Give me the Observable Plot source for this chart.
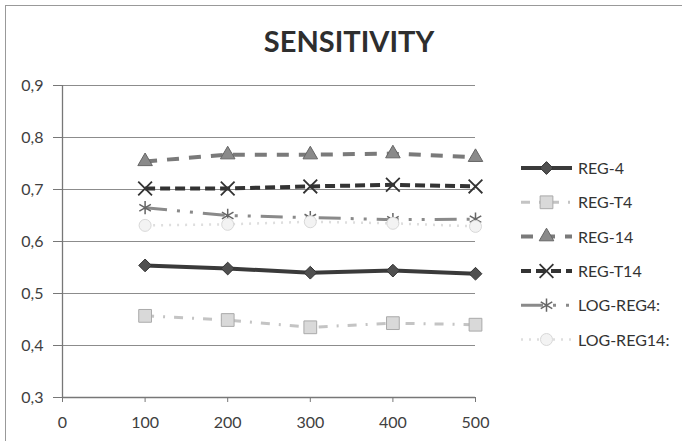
<!DOCTYPE html>
<html><head><meta charset="utf-8">
<script src="https://cdn.jsdelivr.net/npm/d3@7"></script>
<script src="https://cdn.jsdelivr.net/npm/@observablehq/plot@0.6"></script>
<style>
body{margin:0;background:#fff;overflow:hidden}
#wrap{position:relative;width:682px;height:441px;overflow:hidden;font-family:Lato,sans-serif;background:#fff}
#frame{position:absolute;left:5px;top:5px;width:720px;height:480px;border:1px solid #999}
#title{position:absolute;left:0;width:698px;top:24px;text-align:center;font-weight:bold;font-size:29px;line-height:1.2;color:#2e2e2e;font-family:Lato,sans-serif}
#chart{position:absolute;left:0;top:0}
#legend{position:absolute;left:0;top:0}
</style></head><body>
<div id="wrap"><div id="frame"></div><div id="title">SENSITIVITY</div><div id="chart"></div><svg id="legend" width="682" height="441"></svg></div>
<script>
const xValues = [100, 200, 300, 400, 500];
const seriesNames = ["REG-4", "REG-T4", "REG-14", "REG-T14", "LOG-REG4:", "LOG-REG14:"];
const reg4 = [0.554, 0.548, 0.540, 0.544, 0.538];
const regT4 = [0.457, 0.449, 0.435, 0.443, 0.440];
const reg14 = [0.754, 0.767, 0.767, 0.769, 0.762];
const regT14 = [0.702, 0.702, 0.706, 0.709, 0.706];
const logReg4 = [0.665, 0.650, 0.646, 0.642, 0.643];
const logReg14 = [0.631, 0.633, 0.638, 0.635, 0.629];
const xTicks = [0, 100, 200, 300, 400, 500];
const yTicks = [0.3, 0.4, 0.5, 0.6, 0.7, 0.8, 0.9];

const seriesValues = [reg4, regT4, reg14, regT14, logReg4, logReg14];

// square rotated 45° (Excel-style diamond)
const rhombus = {draw(ctx, size) { const h = Math.sqrt(size) * 0.72; ctx.moveTo(0, -h); ctx.lineTo(h, 0); ctx.lineTo(0, h); ctx.lineTo(-h, 0); ctx.closePath(); }};

const styles = [
  {stroke:"#3a3a3a", width:4, dash:null, symbol:rhombus, r:5, fill:"#505050", mstroke:"#333", msw:1},
  {stroke:"#c4c4c4", width:3, dash:"9 9 2 9", symbol:"square", r:7.2, fill:"#d9d9d9", mstroke:"#aaa", msw:1},
  {stroke:"#7a7a7a", width:4, dash:"12 10", symbol:"triangle", r:5.4, fill:"#8a8a8a", mstroke:"#666", msw:1},
  {stroke:"#333", width:4, dash:"10 5", symbol:"times", r:6.3, fill:"none", mstroke:"#333", msw:1.8},
  {stroke:"#8a8a8a", width:3, dash:"22 10 3 10 3 10", symbol:"asterisk", r:6.3, fill:"none", mstroke:"#666", msw:1.5},
  {stroke:"#dedede", width:2.5, dash:"2 6", symbol:"circle", r:6, fill:"#f3f3f3", mstroke:"#d8d8d8", msw:1}
];

const table = seriesNames.map((name, i) => xValues.map((x, j) => ({series: name, x, y: seriesValues[i][j]})));

const marks = [
  Plot.gridY(yTicks.slice(1), {stroke:"#8c8c8c", strokeOpacity:1, strokeWidth:1}),
  Plot.ruleY([0.3], {stroke:"#777", strokeWidth:1.3}),
  Plot.ruleX([0], {stroke:"#777", strokeWidth:1.3}),
  Plot.axisY({ticks: yTicks, tickFormat: d => d.toFixed(1).replace(".", ","), tickSize:9, tickPadding:10, stroke:"#777", fill:"#404040", fontSize:16, label:null}),
  Plot.axisX({ticks: xTicks, tickSize:5, tickPadding:14, stroke:"#777", fill:"#404040", fontSize:16, label:null})
];
table.forEach((rows, i) => {
  const s = styles[i];
  marks.push(Plot.line(rows, {x:"x", y:"y", stroke:s.stroke, strokeWidth:s.width, strokeDasharray:s.dash, strokeLinecap:"butt"}));
});
table.forEach((rows, i) => {
  const s = styles[i];
  marks.push(Plot.dot(rows, {x:"x", y:"y", symbol:s.symbol, r:s.r, fill:s.fill, stroke:s.mstroke, strokeWidth:s.msw}));
});

const chart = Plot.plot({
  width:682, height:441,
  marginLeft:62, marginRight:207, marginTop:85, marginBottom:44,
  x:{domain:[0,500]}, y:{domain:[0.3,0.9]},
  style:{fontFamily:"Lato, sans-serif", fontSize:"16px", color:"#404040", background:"transparent"},
  marks
});
document.getElementById("chart").appendChild(chart);

// legend
const symMap = {square:d3.symbolSquare, triangle:d3.symbolTriangle, times:d3.symbolTimes, asterisk:d3.symbolAsterisk, circle:d3.symbolCircle};
const lg = d3.select("#legend");
seriesNames.forEach((name, i) => {
  const s = styles[i];
  const cy = 168 + i * 34.3;
  const g = lg.append("g");
  g.append("line").attr("x1", 521).attr("x2", 572).attr("y1", cy).attr("y2", cy)
    .attr("stroke", s.stroke).attr("stroke-width", s.width).attr("stroke-dasharray", s.dash);
  const sym = typeof s.symbol === "string" ? symMap[s.symbol] : s.symbol;
  g.append("path").attr("transform", `translate(546.5,${cy})`)
    .attr("d", d3.symbol(sym, s.r * s.r * Math.PI)())
    .attr("fill", s.fill).attr("stroke", s.mstroke).attr("stroke-width", s.msw);
  g.append("text").attr("x", 578).attr("y", cy + 6).text(name)
    .attr("font-family", "Lato, sans-serif").attr("font-size", 16).attr("fill", "#333");
});
</script>
</body></html>
